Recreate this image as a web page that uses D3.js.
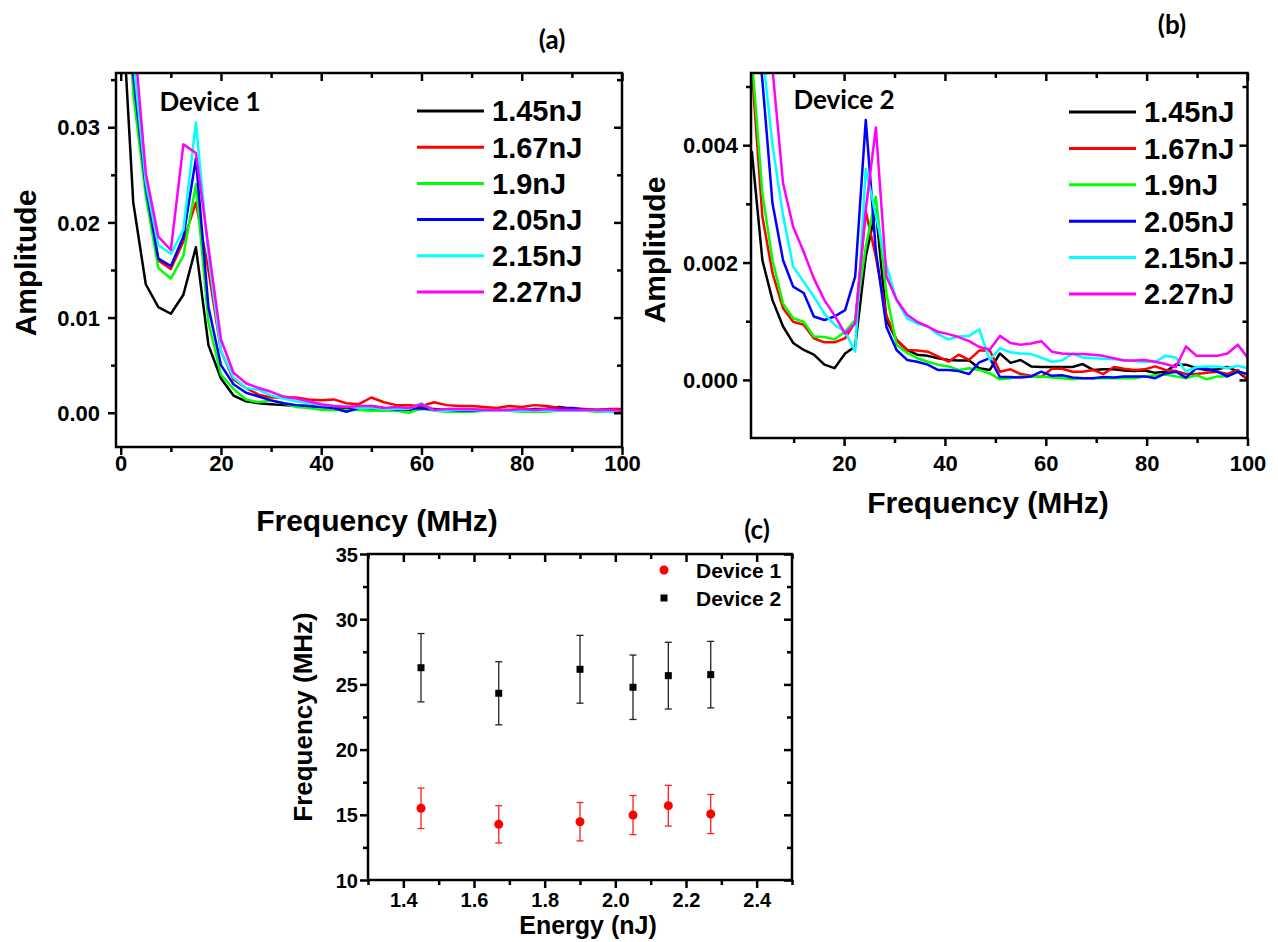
<!DOCTYPE html>
<html>
<head>
<meta charset="utf-8">
<script src="https://cdn.jsdelivr.net/npm/d3@7"></script>
<style>
  body { margin: 0; background: #fff; }
  svg { display: block; }
</style>
</head>
<body>
<svg id="chart" width="1278" height="942"></svg>
<script>
// ---- data ----
var energies = ['1.45nJ', '1.67nJ', '1.9nJ', '2.05nJ', '2.15nJ', '2.27nJ'];
var colors = ['#000000', '#ff0000', '#00ff00', '#0000ff', '#00ffff', '#ff00ff'];

// panel (a), Device 1
var freqA = [0, 2.5, 5, 7.5, 10, 12.5, 15, 17.5, 20, 22.5, 25, 27.5, 30, 32.5, 35, 37.5, 40, 42.5, 45, 47.5,
  50, 52.5, 55, 57.5, 60, 62.5, 65, 67.5, 70, 72.5, 75, 77.5, 80, 82.5, 85, 87.5, 90, 92.5, 95, 97.5, 100];
var ampA145 = [0.0456, 0.0221, 0.0135, 0.0111, 0.0104, 0.0124, 0.0174, 0.0071, 0.0036, 0.0018, 0.0012, 0.0010,
  0.0009, 0.0008, 0.0007, 0.0007, 0.0006, 0.0006, 0.0005, 0.0005, 0.0004, 0.0004, 0.0004, 0.0003, 0.0004, 0.0004,
  0.0003, 0.0003, 0.0003, 0.0003, 0.0003, 0.0003, 0.0003, 0.0004, 0.0004, 0.0006, 0.0004, 0.0003, 0.0003, 0.0003, 0.0002];
var ampA167 = [0.060, 0.0345, 0.0235, 0.0160, 0.0151, 0.0180, 0.0221, 0.0150, 0.0065, 0.0035, 0.0026, 0.0019,
  0.0016, 0.0016, 0.0016, 0.0014, 0.0013, 0.0014, 0.0010, 0.0009, 0.0016, 0.0011, 0.0008, 0.0008, 0.0007, 0.0011,
  0.0008, 0.0007, 0.0007, 0.0006, 0.0005, 0.0007, 0.0006, 0.0008, 0.0007, 0.0005, 0.0005, 0.0004, 0.0003, 0.0004, 0.0004];
var ampA190 = [0.060, 0.0335, 0.0228, 0.0152, 0.0141, 0.0165, 0.0240, 0.0095, 0.0040, 0.0025, 0.0014, 0.0011,
  0.0013, 0.0010, 0.0006, 0.0005, 0.0003, 0.0003, 0.0003, 0.0003, 0.0002, 0.0002, 0.0002, 0.0000, 0.0005, 0.0002,
  0.0001, 0.0001, 0.0001, 0.0002, 0.0002, 0.0002, 0.0001, 0.0001, 0.0001, 0.0002, 0.0002, 0.0002, 0.0001, 0.0001, 0.0000];
var ampA205 = [0.060, 0.0355, 0.0237, 0.0162, 0.0154, 0.0185, 0.0267, 0.0111, 0.0050, 0.0030, 0.0021, 0.0017,
  0.0013, 0.0010, 0.0008, 0.0007, 0.0006, 0.0005, 0.0001, 0.0005, 0.0007, 0.0005, 0.0003, 0.0004, 0.0005, 0.0003,
  0.0002, 0.0002, 0.0002, 0.0002, 0.0002, 0.0002, 0.0003, 0.0003, 0.0004, 0.0004, 0.0005, 0.0003, 0.0003, 0.0003, 0.0002];
var ampA215 = [0.060, 0.0372, 0.0242, 0.0176, 0.0167, 0.0192, 0.0305, 0.0165, 0.0065, 0.0037, 0.0026, 0.0024,
  0.0018, 0.0015, 0.0012, 0.0010, 0.0008, 0.0007, 0.0007, 0.0005, 0.0005, 0.0004, 0.0004, 0.0004, 0.0010, 0.0002,
  0.0002, 0.0003, 0.0003, 0.0002, 0.0002, 0.0002, 0.0002, 0.0002, 0.0002, 0.0002, 0.0002, 0.0002, 0.0002, 0.0001, 0.0001];
var ampA227 = [0.060, 0.0406, 0.0252, 0.0185, 0.0171, 0.0282, 0.0273, 0.0174, 0.0077, 0.0042, 0.0031, 0.0026,
  0.0022, 0.0017, 0.0015, 0.0012, 0.0009, 0.0007, 0.0006, 0.0007, 0.0007, 0.0005, 0.0006, 0.0005, 0.0009, 0.0003,
  0.0004, 0.0004, 0.0004, 0.0003, 0.0003, 0.0003, 0.0004, 0.0003, 0.0004, 0.0003, 0.0003, 0.0003, 0.0003, 0.0003, 0.0002];

// panel (b), Device 2
var freqB = [1.7, 3.8, 5.8, 7.9, 9.9, 12.0, 14.0, 16.1, 18.1, 20.2, 22.2, 24.3, 26.3, 28.4, 30.4, 32.5, 34.5,
  36.6, 38.6, 40.7, 42.7, 44.8, 46.8, 48.9, 50.9, 53.0, 55.0, 57.1, 59.1, 61.2, 63.2, 65.3, 67.3, 69.4, 71.4,
  73.5, 75.5, 77.6, 79.6, 81.7, 83.7, 85.8, 87.8, 89.9, 91.9, 94.0, 96.0, 98.1, 100.1];
var ampB145 = [0.0039, 0.00204, 0.00136, 0.00091, 0.00063, 0.00051, 0.00043, 0.00026, 0.0002, 0.00045,
  0.00057, 0.0021, 0.0029, 0.00102, 0.00068, 0.00051, 0.00043, 0.00041, 0.00037, 0.00034,
  0.00033, 0.00033, 0.0002, 0.00017, 0.00045, 0.00029, 0.00034, 0.00023, 0.00022, 0.00022,
  0.00022, 0.00022, 0.00027, 0.00017, 0.00018, 0.00018, 0.00016, 0.00015, 0.00016, 0.00012,
  0.00014, 0.00026, 0.00026, 0.0002, 0.00017, 0.00018, 0.00022, 0.00014, 0.0];
var ampB167 = [0.0053, 0.00278, 0.00182, 0.00122, 0.00099, 0.00094, 0.00071, 0.00064, 0.00064, 0.00071,
  0.00099, 0.00287, 0.0021, 0.0011, 0.00068, 0.00051, 0.0005, 0.00048, 0.0004, 0.00031,
  0.00043, 0.00034, 0.0005, 0.0005, 0.00014, 0.00018, 0.0001, 0.00007, 0.00005, 0.00019,
  0.00019, 0.00014, 0.00014, 0.00017, 0.0001, 0.00022, 0.00019, 0.00017, 0.00018, 0.00023,
  0.00017, 0.00015, 0.0001, 0.0001, 0.00012, 0.00014, 0.0001, 0.00017, 0.0];
var ampB190 = [0.0055, 0.00318, 0.00204, 0.0013, 0.00105, 0.00099, 0.00074, 0.00073, 0.00069, 0.00082,
  0.00102, 0.00227, 0.00312, 0.00147, 0.0006, 0.00046, 0.00037, 0.00031, 0.00026, 0.00023,
  0.00017, 0.0002, 0.00017, 0.00011, 0.00001, 0.00003, 0.00006, 0.00006, 0.00006, 0.00004,
  0.00003, 0.00001, 0.00003, 0.00003, 0.00003, 0.00003, 0.00003, 0.00003, 0.00006, 0.00008,
  0.00009, 0.00006, 0.00003, 0.00008, 0.00001, 0.00006, 0.00006, 0.00014, 0.00009];
var ampB205 = [0.0068, 0.0051, 0.00301, 0.00204, 0.00159, 0.00148, 0.00108, 0.00102, 0.00108, 0.00119,
  0.00176, 0.00443, 0.0022, 0.0009, 0.00051, 0.00034, 0.00031, 0.00026, 0.00017, 0.00017,
  0.00015, 0.0001, 0.0003, 0.00037, 0.00005, 0.00005, 0.00004, 0.00006, 0.00014, 0.00007,
  0.00008, 0.00004, 0.00003, 0.00003, 0.00005, 0.00004, 0.00006, 0.00006, 0.00006, 0.00003,
  0.00011, 0.00014, 0.00004, 0.0002, 0.00019, 0.00014, 0.00006, 0.00014, 0.0001];
var ampB215 = [0.0075, 0.0056, 0.0040, 0.0028, 0.00193, 0.00167, 0.00142, 0.00113, 0.00094, 0.00082,
  0.00048, 0.0036, 0.0028, 0.00195, 0.00136, 0.00105, 0.00096, 0.00091, 0.00078, 0.00069,
  0.00074, 0.00075, 0.00086, 0.00034, 0.00054, 0.00047, 0.00045, 0.00044, 0.00038, 0.00031,
  0.00033, 0.00045, 0.00038, 0.00037, 0.00036, 0.00035, 0.00034, 0.00032, 0.00031, 0.00031,
  0.00041, 0.00038, 0.00014, 0.00022, 0.00023, 0.00023, 0.0002, 0.00024, 0.0002];
var ampB227 = [0.009, 0.0072, 0.0053, 0.00335, 0.00261, 0.00218, 0.00173, 0.00136, 0.0011, 0.00079,
  0.00096, 0.0029, 0.0043, 0.00176, 0.00137, 0.00111, 0.00099, 0.00091, 0.00082, 0.00078,
  0.00073, 0.00066, 0.00056, 0.00052, 0.00075, 0.00063, 0.0006, 0.00062, 0.00066, 0.00048,
  0.00045, 0.00044, 0.00044, 0.00043, 0.00041, 0.00037, 0.00033, 0.00033, 0.00034, 0.00031,
  0.00027, 0.00022, 0.00057, 0.00041, 0.00041, 0.00041, 0.00045, 0.0006, 0.00037];

// panel (c), peak frequency vs pulse energy
var energyC = [1.45, 1.67, 1.9, 2.05, 2.15, 2.27];
var dev1Freq = [15.5, 14.27, 14.47, 14.98, 15.7, 15.06];
var dev1Err = [1.55, 1.43, 1.47, 1.5, 1.56, 1.5];
var dev2Freq = [26.28, 24.32, 26.16, 24.78, 25.67, 25.75];
var dev2Err = [2.62, 2.42, 2.6, 2.47, 2.56, 2.55];

// tick values
var ticksAx = [0, 20, 40, 60, 80, 100], minorAx = [10, 30, 50, 70, 90];
var ticksAy = [0, 0.01, 0.02, 0.03], minorAy = [0.005, 0.015, 0.025, 0.035];
var ticksBx = [20, 40, 60, 80, 100], minorBx = [10, 30, 50, 70, 90];
var ticksBy = [0, 0.002, 0.004], minorBy = [0.001, 0.003, 0.005];
var ticksCx = [1.4, 1.6, 1.8, 2.0, 2.2, 2.4], minorCx = [1.3, 1.5, 1.7, 1.9, 2.1, 2.3, 2.5];
var ticksCy = [10, 15, 20, 25, 30, 35], minorCy = [12.5, 17.5, 22.5, 27.5, 32.5];

var seriesA = [ampA145, ampA167, ampA190, ampA205, ampA215, ampA227];
var seriesB = [ampB145, ampB167, ampB190, ampB205, ampB215, ampB227];

// ---- drawing ----
var ARIAL = '"Liberation Sans", Arial, sans-serif';
var CALIBRI = 'Lato, "Open Sans", sans-serif';
var svg = d3.select('#chart');

function addAxis(g, orient, scale, pos, values, size, fmt) {
  var horiz = orient === d3.axisBottom || orient === d3.axisTop;
  var sel = g.append('g')
    .attr('transform', horiz ? `translate(0,${pos})` : `translate(${pos},0)`)
    .call(orient(scale).tickValues(values).tickSize(size).tickFormat(fmt || ''));
  sel.select('.domain').remove();
  sel.selectAll('.tick line').attr('stroke', '#000').attr('stroke-width', 2.5);
  return sel;
}

function frame(g, x, y, o) {
  var x0 = x.range()[0], x1 = x.range()[1], y0 = y.range()[1], y1 = y.range()[0];
  // bottom + left, outward ticks with labels
  addAxis(g, d3.axisBottom, x, y1, o.xMajor, 8, o.xFmt)
    .selectAll('text')
      .attr('y', o.xGap).attr('dy', '0.36em')
      .style('font', `bold ${o.fs}px ${ARIAL}`);
  addAxis(g, d3.axisBottom, x, y1, o.xMinor, 5);
  addAxis(g, d3.axisLeft, y, x0, o.yMajor, 8, o.yFmt)
    .selectAll('text')
      .attr('x', -o.yGap).attr('dy', '0.35em')
      .style('font', `bold ${o.fs}px ${ARIAL}`);
  addAxis(g, d3.axisLeft, y, x0, o.yMinor, 5);
  // top + right, inward ticks
  addAxis(g, d3.axisTop, x, y0, o.xMajor, -8);
  addAxis(g, d3.axisTop, x, y0, o.xMinor, -5);
  addAxis(g, d3.axisRight, y, x1, o.yMajor, -8);
  addAxis(g, d3.axisRight, y, x1, o.yMinor, -5);

  g.append('rect')
    .attr('x', x0).attr('y', y0)
    .attr('width', x1 - x0).attr('height', y1 - y0)
    .attr('fill', 'none').attr('stroke', '#000').attr('stroke-width', 2.5);
}

function label(g, txt, x, y, size, family, rotate) {
  g.append('text')
    .attr('transform', `translate(${x},${y})` + (rotate ? ' rotate(-90)' : ''))
    .attr('text-anchor', 'middle')
    .attr('dy', '0.35em')
    .style('font', `bold ${size}px ${family}`)
    .text(txt);
}

function spectrum(id, freq, series, x, y, legend) {
  var g = svg.append('g');
  g.append('clipPath').attr('id', id)
    .append('rect')
      .attr('x', x.range()[0]).attr('y', y.range()[1])
      .attr('width', x.range()[1] - x.range()[0])
      .attr('height', y.range()[0] - y.range()[1]);

  var line = d3.line().x(d => x(d[0])).y(d => y(d[1]));
  g.append('g').attr('clip-path', `url(#${id})`)
    .selectAll('path')
    .data(series)
    .join('path')
      .attr('d', s => line(d3.zip(freq, s)))
      .attr('fill', 'none')
      .attr('stroke', (s, i) => colors[i])
      .attr('stroke-width', 2.5)
      .attr('stroke-linejoin', 'round');

  var lg = g.append('g').selectAll('g')
    .data(energies)
    .join('g')
      .attr('transform', (d, i) => `translate(0,${legend.y + i * legend.step})`);
  lg.append('line')
    .attr('x1', legend.x).attr('x2', legend.x + 67)
    .attr('stroke', (d, i) => colors[i]).attr('stroke-width', 3);
  lg.append('text')
    .attr('x', legend.x + 75).attr('dy', '0.36em')
    .style('font', `bold 29px ${ARIAL}`)
    .text(d => d);
  return g;
}

// panel (a)
var xA = d3.scaleLinear().domain([-0.94, 100]).range([116, 622]);
var yA = d3.scaleLinear().domain([-0.0036, 0.0357]).range([447, 73]);
var gA = spectrum('clipA', freqA, seriesA, xA, yA, {x: 417, y: 111, step: 36.2});
frame(gA, xA, yA, {xMajor: ticksAx, xMinor: minorAx, yMajor: ticksAy, yMinor: minorAy,
  xFmt: d3.format('d'), yFmt: d3.format('.2f'), xGap: 16, yGap: 16, fs: 22});
label(gA, 'Frequency (MHz)', 377, 520, 30, ARIAL);
label(gA, 'Amplitude', 25, 263, 30, ARIAL, true);
label(gA, 'Device 1', 210, 102, 26, CALIBRI);
label(gA, '(a)', 552, 40, 26, CALIBRI);

// panel (b)
var xB = d3.scaleLinear().domain([1.54, 100]).range([751, 1247.5]);
var yB = d3.scaleLinear().domain([-0.00099, 0.00523]).range([438, 73]);
var gB = spectrum('clipB', freqB, seriesB, xB, yB, {x: 1069, y: 112, step: 36.4});
frame(gB, xB, yB, {xMajor: ticksBx, xMinor: minorBx, yMajor: ticksBy, yMinor: minorBy,
  xFmt: d3.format('d'), yFmt: d3.format('.3f'), xGap: 25, yGap: 13, fs: 22});
label(gB, 'Frequency (MHz)', 988, 502, 30, ARIAL);
label(gB, 'Amplitude', 654, 250, 30, ARIAL, true);
label(gB, 'Device 2', 844, 100, 26, CALIBRI);
label(gB, '(b)', 1172, 25, 26, CALIBRI);

// panel (c)
var xC = d3.scaleLinear().domain([1.3, 2.5]).range([368, 792]);
var yC = d3.scaleLinear().domain([10, 35]).range([880, 554]);
var gC = svg.append('g');
frame(gC, xC, yC, {xMajor: ticksCx, xMinor: minorCx, yMajor: ticksCy, yMinor: minorCy,
  xFmt: d3.format('.1f'), yFmt: d3.format('d'), xGap: 20, yGap: 10, fs: 20});

function errorSeries(vals, errs, barColor, marker) {
  var pts = gC.append('g').selectAll('g')
    .data(energyC.map((e, i) => ({e: e, v: vals[i], s: errs[i]})))
    .join('g')
      .attr('stroke', barColor).attr('stroke-width', 1.3);
  pts.append('line')
    .attr('x1', d => xC(d.e)).attr('x2', d => xC(d.e))
    .attr('y1', d => yC(d.v - d.s)).attr('y2', d => yC(d.v + d.s));
  [-1, 1].forEach(function(k) {
    pts.append('line')
      .attr('x1', d => xC(d.e) - 3.5).attr('x2', d => xC(d.e) + 3.5)
      .attr('y1', d => yC(d.v + k * d.s)).attr('y2', d => yC(d.v + k * d.s));
  });
  pts.each(function(d) { marker(d3.select(this), xC(d.e), yC(d.v)); });
}

var dot = (g, x, y) => g.append('circle').attr('cx', x).attr('cy', y).attr('r', 4.5)
  .attr('fill', '#ff0000').attr('stroke', 'none');
var square = (g, x, y) => g.append('rect').attr('x', x - 3.5).attr('y', y - 3.5)
  .attr('width', 7).attr('height', 7).attr('fill', '#000').attr('stroke', 'none');

errorSeries(dev2Freq, dev2Err, '#222', square);
errorSeries(dev1Freq, dev1Err, '#ff2020', dot);

dot(gC, 664, 570);
square(gC, 664, 598);
gC.append('text').attr('x', 696).attr('y', 570).attr('dy', '0.36em')
  .style('font', `bold 21px ${ARIAL}`).text('Device 1');
gC.append('text').attr('x', 696).attr('y', 598).attr('dy', '0.36em')
  .style('font', `bold 21px ${ARIAL}`).text('Device 2');

label(gC, 'Energy (nJ)', 588, 925, 25, ARIAL);
label(gC, 'Frequency (MHz)', 303, 717, 26, ARIAL, true);
label(gC, '(c)', 757, 530, 26, CALIBRI);
</script>
</body>
</html>
